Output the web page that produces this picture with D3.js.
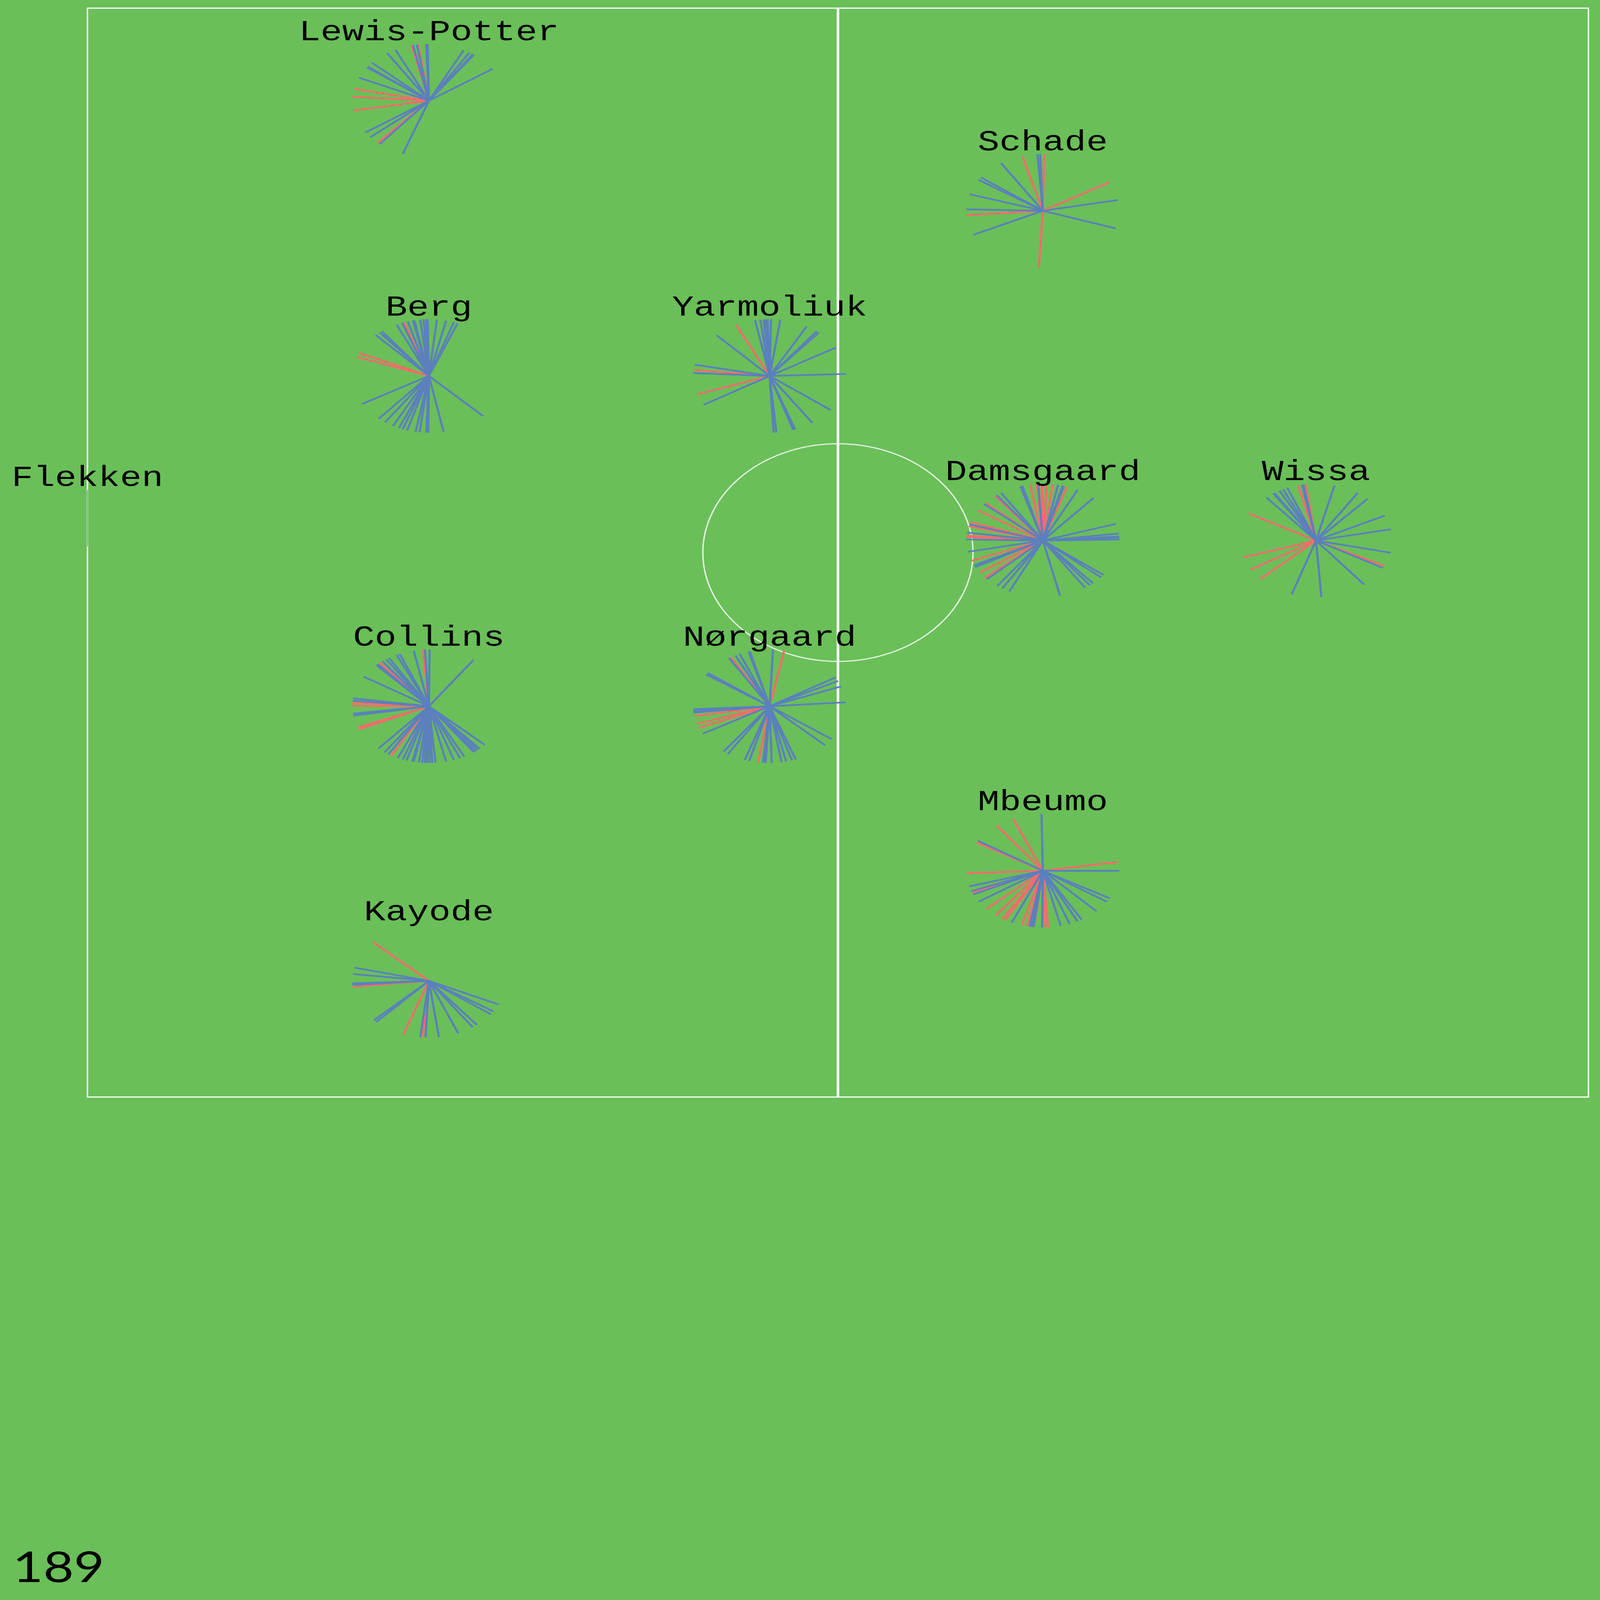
<!DOCTYPE html>
<html>
<head>
<meta charset="utf-8">
<script src="https://cdn.jsdelivr.net/npm/d3@7"></script>
<style>
  html, body { margin: 0; padding: 0; background: #6abf59; overflow: hidden; }
  svg { display: block; width: 100vw; height: 100vh; }
</style>
</head>
<body>
<svg id="chart"></svg>
<script>
// players and their average spot on a 100 x 90 pitch
const players = ["Flekken", "Lewis-Potter", "Berg", "Collins", "Kayode", "Yarmoliuk", "Nørgaard", "Schade", "Damsgaard", "Mbeumo", "Wissa"];
const playerX = [0, 22.75, 22.75, 22.75, 22.75, 45.45, 45.45, 63.65, 63.65, 63.65, 81.85];
const playerY = [44.5, 7.65, 30.4, 57.7, 80.4, 30.4, 57.7, 16.75, 44.0, 71.3, 44.0];

// pass directions in degrees (0 = towards the right, 90 = up)
const completedAngles = [
  [90],
  [92, 91, 99, 102, 116, 123, 138, 143, 144, 156, 214, 220, 230, 250, 63, 58, 55, 54, 34],
  [94, 92, 91, 96.5, 102, 101, 106, 110.5, 115, 128, 130, 134, 84, 77, 71, 68, 209.5, 229, 235, 242, 247, 250, 253.5, 260, 263, 268, 269.5, 281, 315],
  [89.5, 93, 101.5, 112.5, 115, 121.5, 124, 127.5, 133.5, 132, 148.5, 172, 174.5, 187.5, 189.5, 54.5, 228.5, 234.5, 238, 246, 250, 253, 257.5, 258.5, 262.5, 265, 267, 268.5, 270.5, 272.5, 275, 283, 289, 294, 297.5, 306, 307.5, 309.5, 311.5, 317],
  [166.5, 173, 182.5, 184, 224, 226.5, 263.5, 267.5, 277.5, 292.5, 305, 309, 324, 327.5, 335.5],
  [101, 97, 94.5, 93, 91.5, 89, 82, 134, 61, 52, 50, 30, 2, 168.5, 177, 210.5, 273, 275, 288, 289.5, 304, 323],
  [87.5, 106, 105, 113, 116.5, 122, 146, 144, 30.5, 26.5, 20.5, 4, 183, 185, 186.5, 209, 233, 237, 251, 254.5, 265, 266.5, 267, 271.5, 279, 282.5, 287, 290, 316.5, 324.5],
  [94, 92, 123, 147, 144, 163, 178.5, 205, 342, 11],
  [107, 105.5, 93.5, 78.5, 75, 74, 63, 48.5, 123, 127, 140, 163.5, 172, 179, 191.5, 206, 208, 223, 233.5, 238, 244, 283, 303.5, 308, 311, 319.5, 322.5, 17, 7, 4, 3, 1],
  [91, 148, 0, 196, 201, 204.5, 213, 246, 260, 261.5, 263, 269.5, 283.5, 290.5, 297, 300.5, 314.5, 327, 331],
  [100.5, 99.5, 112, 115.5, 118.5, 124, 123, 130.5, 251.5, 274, 309, 331, 347.5, 11.5, 26, 47.5, 57, 76]
];
const failedAngles = [
  [],
  [103, 98, 168, 176, 190, 228],
  [109, 156, 160.5],
  [94.5, 130, 176.5, 179.5, 202, 204, 240.5],
  [137, 186, 250.5, 265.5],
  [116, 174, 199],
  [79, 120.5, 190, 198, 202.5, 261.5],
  [89, 105.5, 184.5, 267, 30],
  [99.5, 94.5, 91, 90, 87, 82.5, 71.5, 128.5, 138.5, 148, 161, 165.5, 175, 176.5, 201, 214.5, 221],
  [113, 127, 150, 182.5, 9, 202.5, 222.5, 232, 238, 240.5, 254, 258, 263.5, 272, 274],
  [103.5, 98, 151.5, 197.5, 211, 223, 333.5]
];
const totalLabel = "189";

const width = 4428, height = 5497;
const keeper = "Flekken";
// length of each spoke, in pitch units
const spokeX = 5.1, spokeY = 4.69;
const labelGap = 5;

// drawn in picture pixels, stretched to whatever window it is opened in
const svg = d3.select("#chart")
  .attr("viewBox", `0 0 ${width} ${height}`)
  .attr("preserveAspectRatio", "none");

svg.append("rect")
  .attr("width", width)
  .attr("height", height)
  .attr("fill", "#6abf59");

const x = d3.scaleLinear().domain([0, 100]).range([242, 4396]);
const y = d3.scaleLinear().domain([0, 90]).range([28, 3769]);

// pitch markings
const pitch = svg.append("g").attr("fill", "none").attr("stroke", "#ffffff");
pitch.append("rect")
  .attr("x", x(0))
  .attr("y", y(0))
  .attr("width", x(100) - x(0))
  .attr("height", y(90) - y(0))
  .attr("stroke-width", 4);
pitch.append("line")
  .attr("x1", x(50)).attr("x2", x(50))
  .attr("y1", y(0)).attr("y2", y(90))
  .attr("stroke-width", 7);
pitch.append("circle")
  .attr("cx", x(50))
  .attr("cy", y(45))
  .attr("r", x(9) - x(0))
  .attr("stroke-opacity", 0.8)
  .attr("stroke-width", 4);

// spokes: failed passes first, completed over them
const rad = Math.PI / 180;
const rows = [];
players.forEach((p, i) => {
  failedAngles[i].forEach(a => rows.push({ p, px: playerX[i], py: playerY[i], a, ok: false }));
  completedAngles[i].forEach(a => rows.push({ p, px: playerX[i], py: playerY[i], a, ok: true }));
});

svg.append("g")
  .selectAll("line")
  .data(rows)
  .join("line")
  .attr("x1", d => x(d.px))
  .attr("y1", d => y(d.py))
  .attr("x2", d => x(d.px + spokeX * Math.cos(d.a * rad)))
  .attr("y2", d => y(d.py - spokeY * Math.sin(d.a * rad)))
  .attr("stroke", d => d.ok ? "#5b80bd" : "#f86b6b")
  .attr("stroke-width", d => d.p === keeper ? 2 : 6);

// names
svg.append("g")
  .selectAll("text")
  .data(players)
  .join("text")
  .attr("x", (d, i) => x(playerX[i]))
  .attr("y", (d, i) => y(playerY[i] - labelGap))
  .attr("text-anchor", "middle")
  .attr("font-family", "'Liberation Mono', 'DejaVu Sans Mono', monospace")
  .attr("font-size", 100)
  .attr("fill", "#000")
  .text(d => d);

svg.append("text")
  .attr("x", 35)
  .attr("y", 5435)
  .attr("font-family", "Lato, 'DejaVu Sans', sans-serif")
  .attr("font-size", 146)
  .attr("fill", "#000")
  .text(totalLabel);
</script>
</body>
</html>
